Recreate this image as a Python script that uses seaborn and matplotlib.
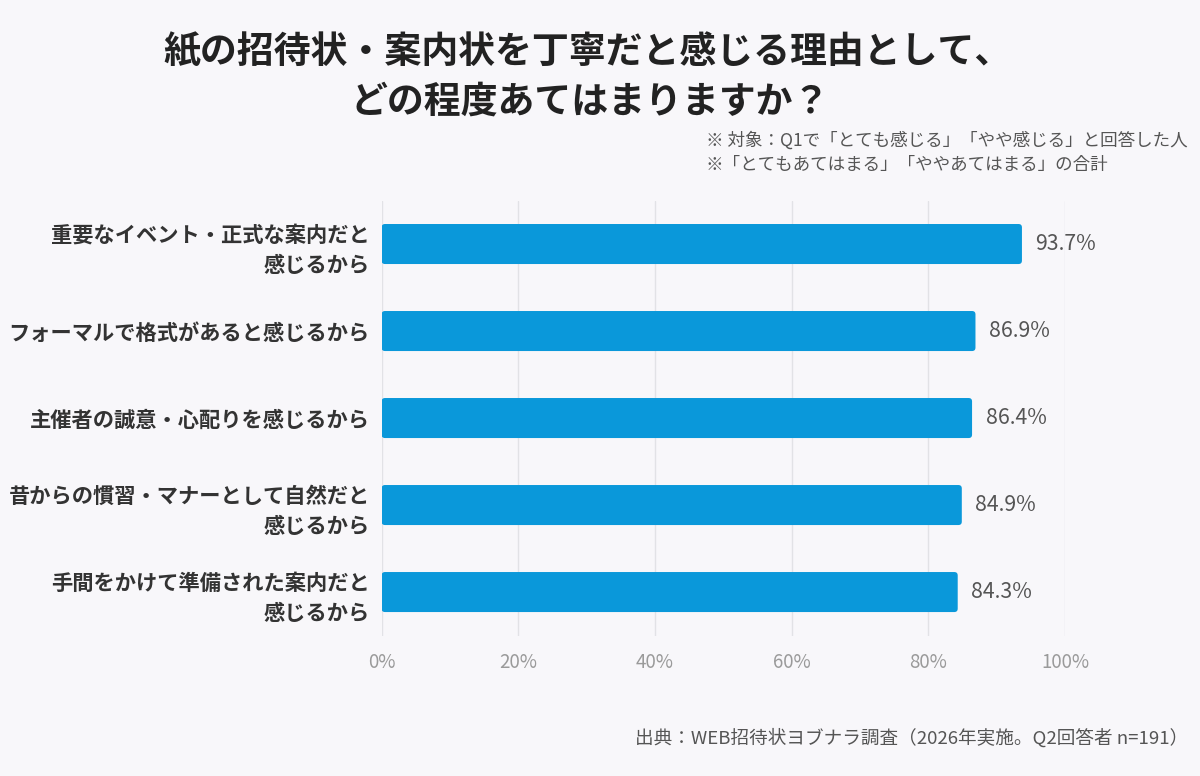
import matplotlib
matplotlib.use("Agg")
import matplotlib.pyplot as plt
from matplotlib.patches import FancyBboxPatch
import seaborn as sns
import pandas as pd

# data
labels = [
    "重要なイベント・正式な案内だと\n感じるから",
    "フォーマルで格式があると感じるから",
    "主催者の誠意・心配りを感じるから",
    "昔からの慣習・マナーとして自然だと\n感じるから",
    "手間をかけて準備された案内だと\n感じるから",
]
values = [93.7, 86.9, 86.4, 84.9, 84.3]
x_ticks = [0, 20, 40, 60, 80, 100]

BG = "#f8f7fa"
BAR = "#0a98da"

sns.set_theme(style="white")
plt.rcParams["font.family"] = ["Noto Sans CJK JP", "DejaVu Sans"]

df = pd.DataFrame({"label": labels, "value": values})

fig = plt.figure(figsize=(12, 7.76), dpi=100, facecolor=BG)
ax = fig.add_axes([0.318, 0.181, 0.5695, 0.5606])
ax.set_facecolor(BG)

sns.barplot(data=df, x="value", y="label", color=BAR, width=0.46,
            saturation=1, ax=ax, zorder=3)

ax.set_xlim(0, 100)
ax.set_ylim(4.5, -0.5)

# swap the plain bars for slightly rounded ones
for p in list(ax.patches):
    x0, y0 = p.get_x(), p.get_y()
    w, h = p.get_width(), p.get_height()
    rb = FancyBboxPatch((x0, y0), w, h,
                        boxstyle="round,pad=0,rounding_size=0.5",
                        mutation_aspect=0.0785,
                        facecolor=BAR, edgecolor="none", zorder=3)
    p.remove()
    ax.add_patch(rb)

ax.set_xticks(x_ticks)
ax.set_xticklabels([f"{t}%" for t in x_ticks], color="#9a9a9a", fontsize=13.5)
ax.tick_params(axis="x", length=0, pad=12)
ax.tick_params(axis="y", length=0, pad=8.5)
for lab in ax.get_yticklabels():
    lab.set_fontsize(15.3)
    lab.set_fontweight("bold")
    lab.set_color("#333333")
    lab.set_horizontalalignment("right")
    lab.set_multialignment("right")
    lab.set_linespacing(1.55)
ax.set_xlabel("")
ax.set_ylabel("")
ax.grid(axis="x", color="#e2e2e6", linewidth=1, zorder=0)
for s in ax.spines.values():
    s.set_visible(False)

for i, v in enumerate(values):
    ax.text(v + 2.0, i, f"{v}%", va="center", ha="left",
            fontsize=15.3, color="#555555")

fig.text(0.49, 0.932, "紙の招待状・案内状を丁寧だと感じる理由として、",
         ha="center", va="center", fontsize=26.6, fontweight="bold", color="#222222")
fig.text(0.492, 0.869, "どの程度あてはまりますか？",
         ha="center", va="center", fontsize=26.6, fontweight="bold", color="#222222")
fig.text(0.588, 0.819, "※ 対象：Q1で「とても感じる」「やや感じる」と回答した人",
         ha="left", va="center", fontsize=12.65, color="#555555")
fig.text(0.588, 0.787, "※「とてもあてはまる」「ややあてはまる」の合計",
         ha="left", va="center", fontsize=12.65, color="#555555")
fig.text(0.99, 0.049, "出典：WEB招待状ヨブナラ調査（2026年実施。Q2回答者 n=191）",
         ha="right", va="center", fontsize=13.4, color="#555555")

fig.savefig("out.png", dpi=100, facecolor=BG)
